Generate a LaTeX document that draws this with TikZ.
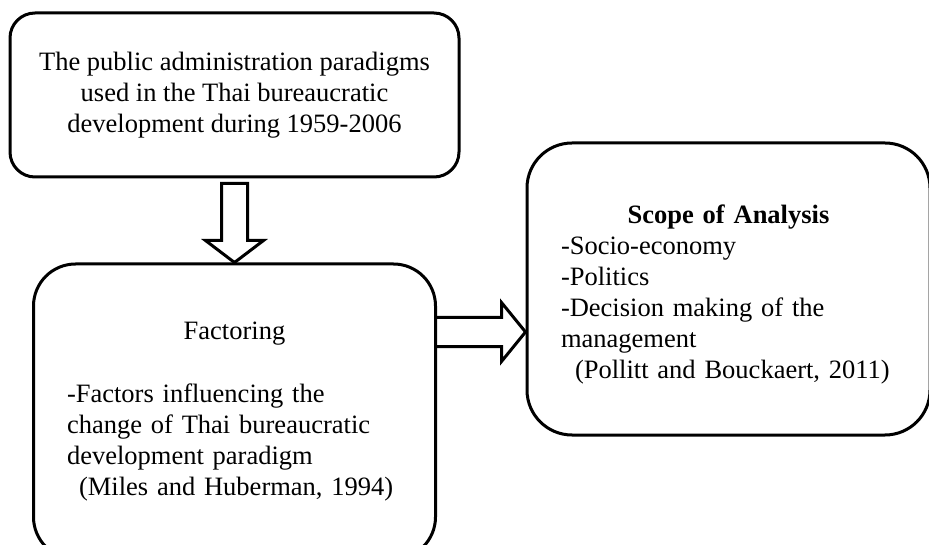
\documentclass[tikz,border=0pt]{standalone}
\usepackage{fontspec}
\setmainfont{Liberation Serif}
\usetikzlibrary{positioning, calc}
\tikzset{
  box/.style={draw, line width=3pt, rounded corners=#1, inner sep=0pt, align=center},
  box/.default=25pt,
  hollow/.style={draw, line width=3pt, line join=miter},
  every node/.style={font=\fontsize{26.5}{31}\selectfont}
}

\begin{document}
\begin{tikzpicture}[x=1pt,y=-1pt]
    \useasboundingbox (0,0) rectangle (929,545);
    \clip (0,0) rectangle (929,545);
    \node[box=25pt, minimum width=449pt, minimum height=164pt] (paradigms) at (234.5,95) {The public administration paradigms\\used in the Thai bureaucratic\\development during 1959-2006};
    \node[box=42pt, minimum width=402pt, minimum height=295pt, below=84pt of paradigms, text width=335pt, align=left] (factoring) {{\centering Factoring\par}\vspace{32pt}-Factors influencing the\\change of Thai bureaucratic\\development paradigm\\\hspace*{12pt}(Miles and Huberman, 1994)};
    \node[box=45pt, minimum width=403pt, minimum height=292pt, text width=335pt, align=left] (scope) at (728.5,289) {{\centering\bfseries\rule{0pt}{30pt}Scope of Analysis\par}-Socio-economy\\-Politics\\-Decision making of the\\management\\\hspace*{14pt}(Pollitt and Bouckaert, 2011)};
    \coordinate (tipR) at ($(scope.west)+(0,43)$);
    % hollow block arrows
    \draw[hollow] ($(paradigms.south)+(-13,5)$) -- ($(factoring.north)+(-13,-22)$) -- ($(factoring.north)+(-29,-22)$) -- (factoring.north) -- ($(factoring.north)+(29,-22)$) -- ($(factoring.north)+(13,-22)$) -- ($(paradigms.south)+(13,5)$) -- cycle;
    \draw[hollow] ($(factoring.east|-tipR)+(0,-14.5)$) -- ($(tipR)+(-24,-14.5)$) -- ($(tipR)+(-24,-29.5)$) -- (tipR) -- ($(tipR)+(-24,29.5)$) -- ($(tipR)+(-24,14.5)$) -- ($(factoring.east|-tipR)+(0,14.5)$);
\end{tikzpicture}
\end{document}
